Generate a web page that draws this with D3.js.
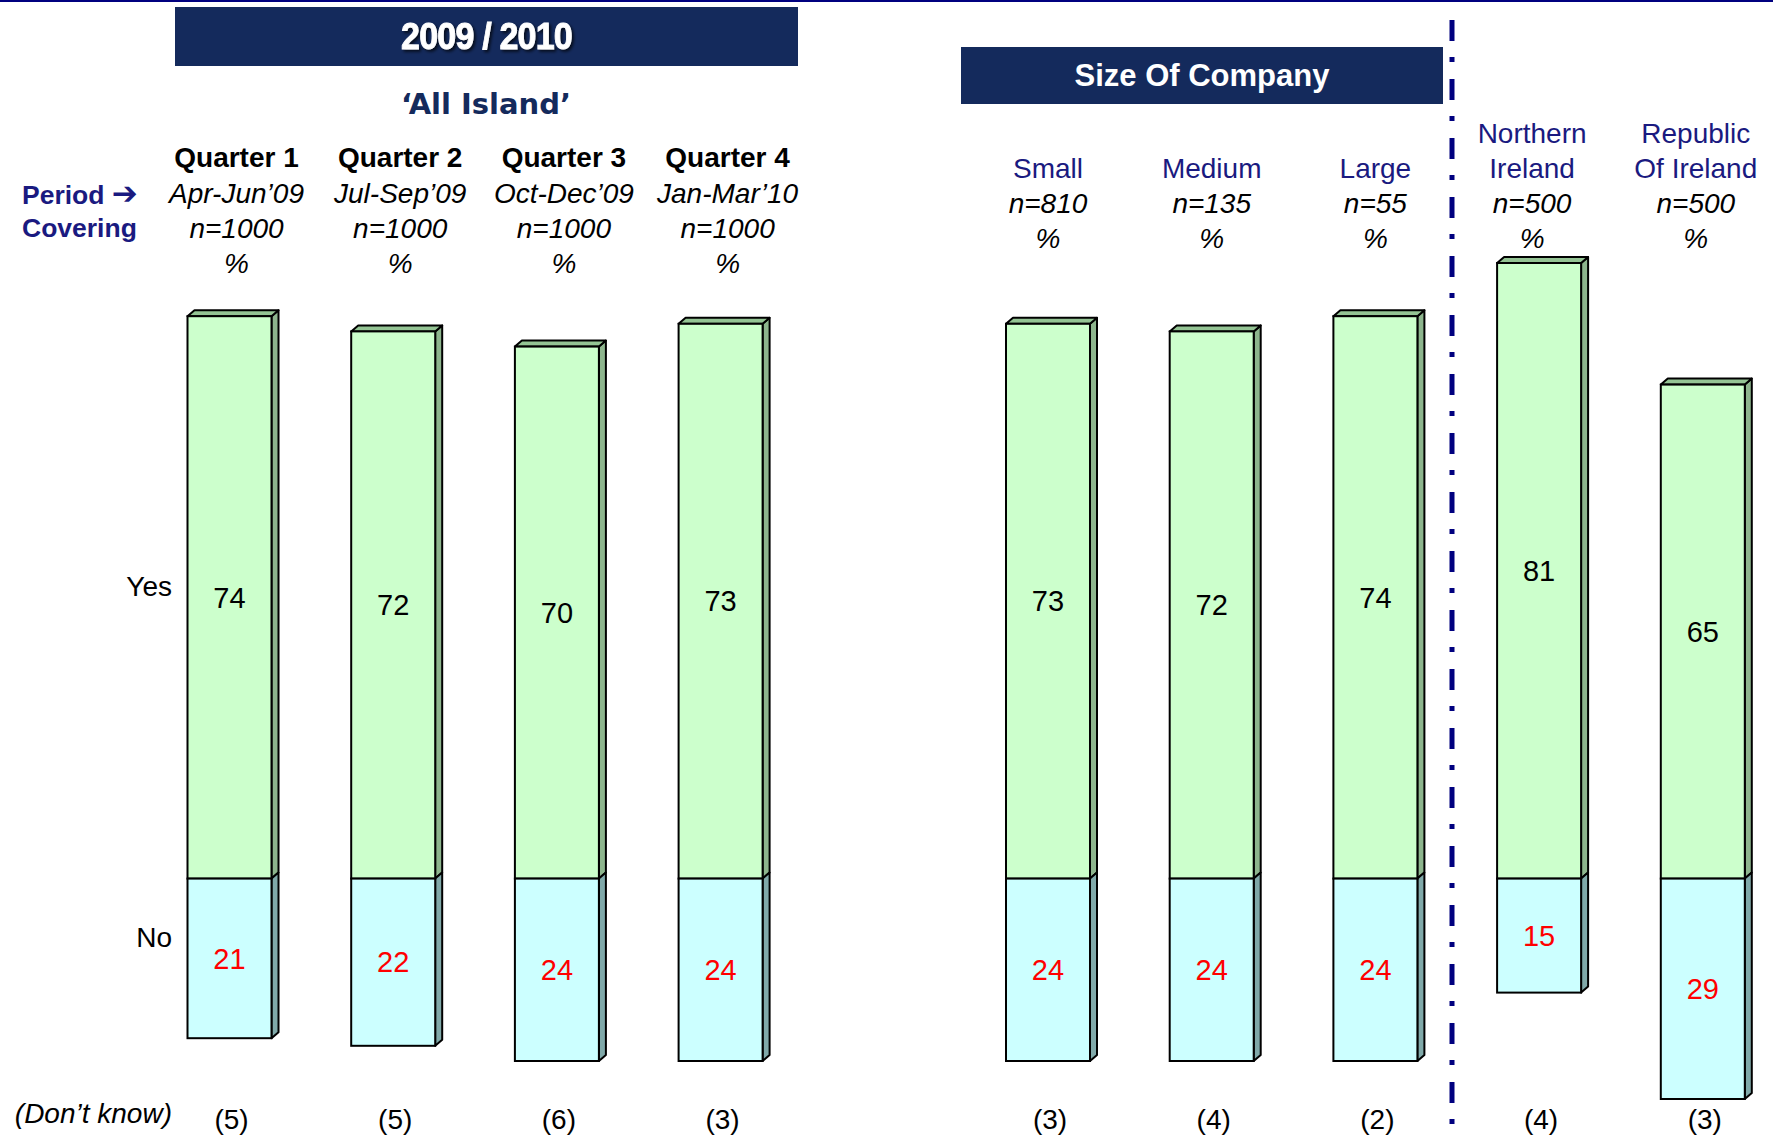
<!DOCTYPE html>
<html>
<head>
<meta charset="utf-8">
<script src="https://cdn.jsdelivr.net/npm/d3@7"></script>
<style>
body{margin:0;background:#fff;}
svg{display:block;font-family:"Liberation Sans",Arial,sans-serif;}
</style>
</head>
<body>
<div id="chart"></div>
<script>
(function(){
"use strict"
//---Yes / No stacked 3D bars---

// slots along x, one empty slot between the two blocks
var slots = ["Q1","Q2","Q3","Q4","gap","Small","Medium","Large","NI","ROI"],
	keys  = ["Q1","Q2","Q3","Q4","Small","Medium","Large","NI","ROI"],
	groupOf = ["q","q","q","q","s","s","s","r","r"],

	titles  = [["Quarter 1"],["Quarter 2"],["Quarter 3"],["Quarter 4"],
		["Small"],["Medium"],["Large"],["Northern","Ireland"],["Republic","Of Ireland"]],
	periods = ["Apr-Jun\u201909","Jul-Sep\u201909","Oct-Dec\u201909","Jan-Mar\u201910",null,null,null,null,null],
	bases   = ["n=1000","n=1000","n=1000","n=1000","n=810","n=135","n=55","n=500","n=500"],

	yesVals = [74,72,70,73,73,72,74,81,65],
	noVals  = [21,22,24,24,24,24,24,15,29],
	dkVals  = [5,5,6,3,3,4,2,4,3];

var width = 1773, height = 1138,
	barW = 84,
	dx = 7, dy = 6,	//3d depth
	navy = "#142a5c",
	blue = "#00007f";

var x = d3.scalePoint().domain(slots).range([229.5,1702.8]);
var y = d3.scaleLinear().domain([-30,85]).range([878.6+30*7.6, 878.6-85*7.6]);

var svg = d3.select('#chart').append('svg')
	.attr('width',width)
	.attr('height',height);

var defs = svg.append('defs');
var f = defs.append('filter').attr('id','shadow').attr('x','-10%').attr('y','-30%').attr('width','130%').attr('height','160%');
f.append('feDropShadow').attr('dx',2).attr('dy',2).attr('stdDeviation',1.5)
	.attr('flood-color','#000').attr('flood-opacity',0.7);

// top rule
svg.append('rect').attr('x',0).attr('y',0).attr('width',width).attr('height',2).style('fill',blue);

// banners
var banners = [
	{x0:175, x1:798, y0:7, y1:66, label:"2009 / 2010", size:34, ls:-0.8, sh:true},
	{x0:961, x1:1443, y0:47, y1:104, label:"Size Of Company", size:31, ls:0, sh:false}
];
banners.forEach(function(b){
	svg.append('rect')
		.attr('x',b.x0).attr('y',b.y0)
		.attr('width',b.x1-b.x0).attr('height',b.y1-b.y0)
		.style('fill',navy);
	var cx = (b.x0+b.x1)/2, cy = (b.y0+b.y1)/2;
	var t = svg.append('text').attr('x',cx).attr('y',cy).attr('dy','0.35em')
		.attr('text-anchor','middle')
		.style('font-size',b.size+'px').style('font-weight','bold')
		.style('letter-spacing',b.ls+'px')
		.style('fill','#fff').text(b.label);
	if (b.sh){
		t.attr('transform','translate('+cx+','+cy+') scale(1,1.08) translate('+(-cx)+','+(-cy)+')')
			.style('stroke','#fff').style('stroke-width',0.8)
			.attr('filter','url(#shadow)');
	}
});

svg.append('text').attr('x',486).attr('y',104).attr('dy','0.35em')
	.attr('text-anchor','middle')
	.style('font-family','"DejaVu Sans",Verdana,sans-serif')
	.style('font-size','29px').style('font-weight','bold').style('fill',navy)
	.text("\u2018All Island\u2019");

// period covering
var per = svg.append('text').attr('x',22).attr('y',195).attr('dy','0.35em')
	.style('font-size','26.5px').style('font-weight','bold').style('fill','#1a1a80');
per.append('tspan').text("Period ");
per.append('tspan').style('font-family','"DejaVu Sans",sans-serif').style('font-size','31px').text("\u2794");
svg.append('text').attr('x',22).attr('y',228).attr('dy','0.35em')
	.style('font-size','26.5px').style('font-weight','bold').style('fill','#1a1a80')
	.text("Covering");

// column headers
var pctY = {q:263.5, s:238.6, r:238.6},
	hOff = {q:7, s:0, r:-7},
	lineH = 35.3;

keys.forEach(function(k,i){
	var g = groupOf[i],
		cx = x(k)+hOff[g],
		lines = [];
	titles[i].forEach(function(t){
		lines.push({t:t, w:g=="q"?'bold':'normal', s:'normal', c:g=="q"?'#000':'#1a1a80'});
	});
	if (periods[i]) lines.push({t:periods[i], w:'normal', s:'italic', c:'#000'});
	lines.push({t:bases[i], w:'normal', s:'italic', c:'#000'});
	lines.push({t:"%", w:'normal', s:'italic', c:'#000'});
	var n = lines.length;
	lines.forEach(function(l,j){
		svg.append('text')
			.attr('x',cx)
			.attr('y',pctY[g]-(n-1-j)*lineH)
			.attr('dy','0.35em')
			.attr('text-anchor','middle')
			.style('font-size','28px')
			.style('font-weight',l.w)
			.style('font-style',l.s)
			.style('fill',l.c)
			.text(l.t);
	});
});

// separator
svg.append('line')
	.attr('x1',1452).attr('x2',1452)
	.attr('y1',20).attr('y2',1130)
	.style('stroke',blue).style('stroke-width',5)
	.style('stroke-dasharray','21,16,5,17');

// bars
var data = keys.map(function(k,i){return {k:k, yes:yesVals[i], no:noVals[i], dk:dkVals[i]};});

var bars = svg.selectAll('g.bar')
	.data(data)
	.enter()
		.append('g').attr('class','bar');

var pts = function(a){return a.map(function(p){return p.join(',');}).join(' ');};

bars.each(function(d){
	var g = d3.select(this),
		x0 = x(d.k)-barW/2,
		x1 = x(d.k)+barW/2,
		yT = y(d.yes),
		y0 = y(0),
		yB = y(-d.no);

	// side faces
	g.append('polygon')
		.attr('points',pts([[x1,yT],[x1+dx,yT-dy],[x1+dx,y0-dy],[x1,y0]]))
		.style('fill','#8db58d').style('stroke','#000').style('stroke-width',2).style('stroke-linejoin','round');
	g.append('polygon')
		.attr('points',pts([[x1,y0],[x1+dx,y0-dy],[x1+dx,yB-dy],[x1,yB]]))
		.style('fill','#80a9a9').style('stroke','#000').style('stroke-width',2).style('stroke-linejoin','round');
	// top
	g.append('polygon')
		.attr('points',pts([[x0,yT],[x0+dx,yT-dy],[x1+dx,yT-dy],[x1,yT]]))
		.style('fill','#94c494').style('stroke','#000').style('stroke-width',2).style('stroke-linejoin','round');
	// fronts
	g.append('rect')
		.attr('x',x0).attr('y',yT).attr('width',barW).attr('height',y0-yT)
		.style('fill','#ccffcc').style('stroke','#000').style('stroke-width',2);
	g.append('rect')
		.attr('x',x0).attr('y',y0).attr('width',barW).attr('height',yB-y0)
		.style('fill','#ccffff').style('stroke','#000').style('stroke-width',2);

	g.append('text')
		.attr('x',x(d.k)).attr('y',(yT+y0)/2).attr('dy','0.35em')
		.attr('text-anchor','middle')
		.style('font-size','29px').style('fill','#000')
		.text(d.yes);
	g.append('text')
		.attr('x',x(d.k)).attr('y',(y0+yB)/2).attr('dy','0.35em')
		.attr('text-anchor','middle')
		.style('font-size','29px').style('fill','#ff0000')
		.text(d.no);
	g.append('text')
		.attr('x',x(d.k)+2).attr('y',1119).attr('dy','0.35em')
		.attr('text-anchor','middle')
		.style('font-size','28px').style('fill','#000')
		.text('('+d.dk+')');
});

// row labels
svg.append('text').attr('x',172).attr('y',586).attr('dy','0.35em')
	.attr('text-anchor','end').style('font-size','28px').text("Yes");
svg.append('text').attr('x',172).attr('y',937).attr('dy','0.35em')
	.attr('text-anchor','end').style('font-size','28px').text("No");
svg.append('text').attr('x',172).attr('y',1113).attr('dy','0.35em')
	.attr('text-anchor','end').style('font-size','28px').style('font-style','italic')
	.text("(Don\u2019t know)");

})();
</script>
</body>
</html>
